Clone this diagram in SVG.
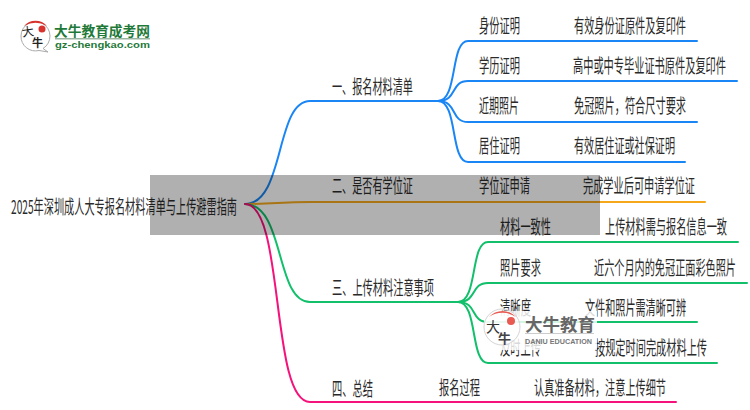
<svg xmlns="http://www.w3.org/2000/svg" width="750" height="410" viewBox="0 0 750 410">
<style>
text{font-family:"Noto Sans CJK SC","Liberation Sans",sans-serif}
.t{font-size:19px;fill:#2a2a2a}
.c{fill:none;stroke-width:2;stroke-linecap:round}
.b{stroke:#1a86f5}.o{stroke:#f5a81c}.g{stroke:#12bf6b}.p{stroke:#f5127b}
</style>
<rect width="750" height="410" fill="#fff"/>
<g id="connectors">
<path class="c b" d="M245 204C285 204 275 101 310 101H438"/>
<path class="c o" d="M245 204C275 204 280 202 310 202H705"/>
<path class="c g" d="M245 204C285 204 275 302 310 302H458"/>
<path class="c p" d="M245 204C285 204 270 402 310 402H676"/>
<path class="c b" d="M438 101C458 101 450 41 468 41H697"/>
<path class="c b" d="M438 101C458 101 450 81 468 81H737"/>
<path class="c b" d="M438 101C458 101 450 122 468 122H697"/>
<path class="c b" d="M438 101C458 101 450 162 468 162H685"/>
<path class="c g" d="M458 302C478 302 470 242 488 242H738"/>
<path class="c g" d="M458 302C478 302 470 283 488 283H747"/>
<path class="c g" d="M458 302C478 302 470 322 488 322H697"/>
<path class="c g" d="M458 302C478 302 470 363 488 363H717"/>
</g>
<g id="root"><text class="t" x="11" y="214" textLength="226" lengthAdjust="spacingAndGlyphs">2025年深圳成人大专报名材料清单与上传避雷指南</text></g>
<g id="n1"><text class="t" x="332" y="94" textLength="81" lengthAdjust="spacingAndGlyphs">一、报名材料清单</text></g>
<g id="n1a"><text class="t" x="479" y="33" textLength="41" lengthAdjust="spacingAndGlyphs">身份证明</text><text class="t" x="574" y="33" textLength="112" lengthAdjust="spacingAndGlyphs">有效身份证原件及复印件</text></g>
<g id="n1b"><text class="t" x="479" y="73" textLength="41" lengthAdjust="spacingAndGlyphs">学历证明</text><text class="t" x="573" y="73" textLength="153" lengthAdjust="spacingAndGlyphs">高中或中专毕业证书原件及复印件</text></g>
<g id="n1c"><text class="t" x="479" y="113" textLength="40" lengthAdjust="spacingAndGlyphs">近期照片</text><text class="t" x="574" y="113" textLength="112" lengthAdjust="spacingAndGlyphs">免冠照片，符合尺寸要求</text></g>
<g id="n1d"><text class="t" x="479" y="153" textLength="41" lengthAdjust="spacingAndGlyphs">居住证明</text><text class="t" x="574" y="153" textLength="101" lengthAdjust="spacingAndGlyphs">有效居住证或社保证明</text></g>
<g id="n2"><text class="t" x="332" y="193" textLength="81" lengthAdjust="spacingAndGlyphs">二、是否有学位证</text></g>
<g id="n2a"><text class="t" x="479" y="193" textLength="51" lengthAdjust="spacingAndGlyphs">学位证申请</text><text class="t" x="583" y="193" textLength="112" lengthAdjust="spacingAndGlyphs">完成学业后可申请学位证</text></g>
<g id="n3"><text class="t" x="332" y="295" textLength="102" lengthAdjust="spacingAndGlyphs">三、上传材料注意事项</text></g>
<g id="n3a"><text class="t" x="500" y="234" textLength="51" lengthAdjust="spacingAndGlyphs">材料一致性</text><text class="t" x="605" y="234" textLength="122" lengthAdjust="spacingAndGlyphs">上传材料需与报名信息一致</text></g>
<g id="n3b"><text class="t" x="500" y="275" textLength="41" lengthAdjust="spacingAndGlyphs">照片要求</text><text class="t" x="594" y="275" textLength="142" lengthAdjust="spacingAndGlyphs">近六个月内的免冠正面彩色照片</text></g>
<g id="n3c"><text class="t" x="500" y="315" textLength="31" lengthAdjust="spacingAndGlyphs">清晰度</text><text class="t" x="585" y="315" textLength="101" lengthAdjust="spacingAndGlyphs">文件和照片需清晰可辨</text></g>
<g id="n3d"><text class="t" x="500" y="355" textLength="41" lengthAdjust="spacingAndGlyphs">及时上传</text><text class="t" x="595" y="355" textLength="112" lengthAdjust="spacingAndGlyphs">按规定时间完成材料上传</text></g>
<g id="n4"><text class="t" x="332" y="396" textLength="41" lengthAdjust="spacingAndGlyphs">四、总结</text><text class="t" x="439" y="395" textLength="41" lengthAdjust="spacingAndGlyphs">报名过程</text><text class="t" x="534" y="395" textLength="132" lengthAdjust="spacingAndGlyphs">认真准备材料，注意上传细节</text></g>
<rect id="band" x="150" y="175" width="450" height="60" fill="#000" fill-opacity=".31"/>
<g id="logo">
<path d="M21 36a14.500 14.500 0 1 1 22 12.500l5 3.500-9-1.500A14.500 14.500 0 0 1 21 36Z" fill="#fff" stroke="#aaa" stroke-width="1"/>
<path d="M24 26a15 15 0 0 1 23 0a24 24 0 0 0-23 0Z" fill="#d8322c"/>
<circle cx="42" cy="29" r="3.500" fill="#d8322c"/>
<text x="22" y="36" font-size="12" fill="#222" transform="rotate(-8 28 33)">大</text>
<text x="32" y="47" font-size="11" font-weight="700" fill="#222">牛</text>
<text x="54" y="36" font-size="13.700" font-weight="700" fill="#1f7a3a" textLength="96" lengthAdjust="spacingAndGlyphs">大牛教育成考网</text>
<rect x="55" y="38" width="95" height="1.500" fill="#9ab5a2"/>
<text x="55" y="48" font-size="9.500" font-weight="700" fill="#1f7a3a" style="font-family:'Liberation Sans',sans-serif" textLength="95" lengthAdjust="spacingAndGlyphs">gz-chengkao.com</text>
</g>
<g id="watermark">
<rect x="484" y="311" width="113" height="39" fill="#fff" fill-opacity=".82"/>
<circle cx="502" cy="327" r="18" fill="#fff" fill-opacity=".5" stroke="#d5d5d5" stroke-width="1"/>
<path d="M489 317a18 18 0 0 1 27 0a24 24 0 0 0-27 0Z" fill="#e85a52"/>
<circle cx="511" cy="321" r="4" fill="#e85a52"/>
<text x="486" y="332" font-size="14" fill="#333">大</text>
<text x="498" y="343" font-size="13" font-weight="700" fill="#444">牛</text>
<text x="525" y="331" font-size="17.500" font-weight="700" fill="#666" textLength="70" lengthAdjust="spacingAndGlyphs">大牛教育</text>
<rect x="525" y="333" width="69" height="1" fill="#ccc"/>
<text x="525" y="344" font-size="7" font-weight="700" fill="#777" style="font-family:'Liberation Sans',sans-serif" textLength="67" lengthAdjust="spacingAndGlyphs">DANIU EDUCATION</text>
</g>
</svg>
